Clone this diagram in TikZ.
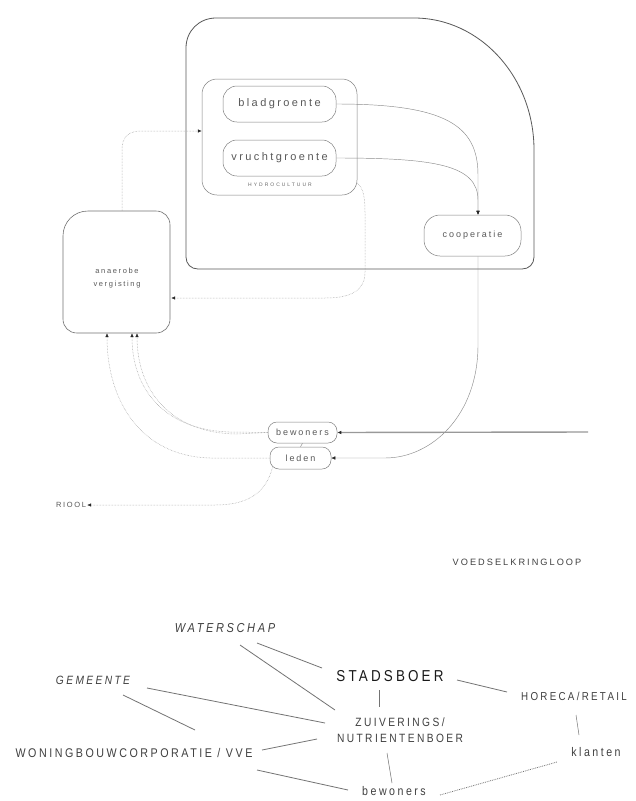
\documentclass[tikz,border=0pt]{standalone}
\usepackage{fontspec}
\setmainfont{Liberation Sans}
\newfontfamily\topf[LetterSpace=22]{Liberation Sans}
\newfontfamily\tinyf[LetterSpace=40]{Liberation Sans}
\newfontfamily\botf[LetterSpace=20,FakeStretch=0.85]{Liberation Sans}
\usetikzlibrary{arrows.meta,calc}
\newcommand\myfs[1]{\fontsize{#1}{#1}\selectfont}
\tikzset{
  pill/.style={draw=black!50, line width=0.5pt, inner sep=0pt, text=black!65},
  boxline/.style={draw=black!55, line width=0.6pt},
  flow/.style={draw=black!40, line width=0.5pt, densely dotted},
  sflow/.style={draw=black!45, line width=0.45pt},
  tip/.style={-{Latex[length=4pt,width=3.5pt,color=black!85]}},
  lab/.style={inner sep=3pt, text=black!75},
  rel/.style={draw=black!55, line width=0.8pt},
}
\begin{document}
\begin{tikzpicture}[x=1pt,y=-1pt]
\fill[white] (0,0) rectangle (636,801);
\useasboundingbox (0,0) rectangle (636,801);

% outer container
\draw[draw=black!65, line width=0.8pt] (216,18) -- (414,18) .. controls (480,18) and (534,77) .. (534,150) -- (534,257) .. controls (534,264) and (529,269) .. (522,269) -- (198,269) .. controls (191,269) and (186,264) .. (186,257) -- (186,48) .. controls (186,31) and (199,18) .. (216,18) -- cycle;

% hydrocultuur
\node[pill, rounded corners=15pt, minimum width=155pt, minimum height=116pt] (hydro) at (279.5,137) {};
\node[pill, rounded corners=14pt, minimum width=113pt, minimum height=36pt, font=\topf\myfs{11}] (blad) at (279.5,104) {bladgroente};
\node[pill, rounded corners=14pt, minimum width=113pt, minimum height=36pt, font=\topf\myfs{11}] (vrucht) at (279.5,158) {vruchtgroente};
\node[inner sep=0pt, text=black!60, font=\tinyf\myfs{5}] (hlab) at (280,184.5) {HYDROCULTUUR};

% cooperatie
\node[pill, rounded corners=16pt, minimum width=97pt, minimum height=41pt, font=\topf\myfs{9}] (coop) at (472.5,235.5) {cooperatie};

% anaerobe vergisting
\node[minimum width=107pt, minimum height=122pt, inner sep=0pt] (ana) at (116.5,272) {};
\draw[boxline] (88,211) -- (156,211) .. controls (164,211) and (170,217) .. (170,225) -- (170,319) .. controls (170,327) and (164,333) .. (156,333) -- (77,333) .. controls (69,333) and (63,327) .. (63,319) -- (63,236) .. controls (63,222) and (74,211) .. (88,211) -- cycle;
\node[align=center, text=black!65, font=\topf\fontsize{7.5}{13}\selectfont] (anatext) at (117,278) {anaerobe\\vergisting};

% bewoners / leden
\node[pill, rounded corners=9pt, minimum width=69pt, minimum height=21pt, font=\topf\myfs{9}] (bew) at (302.5,432.5) {bewoners};
\node[pill, rounded corners=9pt, minimum width=61pt, minimum height=22pt, font=\topf\myfs{9}] (leden) at (300.5,458) {leden};
\node[inner sep=1pt, text=black!65, font=\topf\myfs{7.5}] (riool) at (71,505) {RIOOL};
\coordinate (src) at (588,432);

\node[inner sep=0pt, text=black!75, font=\topf\myfs{9.2}] (voedsel) at (517,562) {VOEDSELKRINGLOOP};

% top connectors
\draw[flow,tip] ($(ana.north)+(5.5,0)$) -- (122,150) .. controls (122,137) and (128,131) .. (142,131) -- ($(hydro.west)+(0,-6)$);
\draw[flow,tip] ($(hydro.east)+(0,46)$) .. controls (363,188) and (365,196) .. (365,212) -- (365,272) .. controls (365,290) and (352,298) .. (325,298) -- ($(ana.east)+(1,26)$);
\draw[sflow,tip] (blad.east) .. controls (445,104) and (478,125) .. (478,175) -- ($(coop.north)+(5.5,0)$);
\draw[sflow,tip] (vrucht.east) .. controls (435,158) and (478,165) .. (478,200) -- ($(coop.north)+(5.5,0)$);
\draw[sflow,tip] ($(coop.south)+(5.5,0)$) -- (478,345) .. controls (478,415) and (432,458) .. (385,458) -- (leden.east);
\draw[draw=black!40, line width=1.4pt, tip] (src) -- (bew.east);
\draw[flow,tip] (bew.west) -- (230,432) .. controls (165,430) and (132,390) .. ($(ana.south)+(15.5,0)$);
\draw[flow,tip] (bew.west) -- (236,434) .. controls (172,433) and (137,392) .. ($(ana.south)+(20.5,0)$);
\draw[flow,tip] (leden.west) -- (210,458) .. controls (140,456) and (107,400) .. ($(ana.south)+(-9.5,0)$);
\draw[flow,tip] ($(leden.south west)+(3,-3)$) .. controls (266,495) and (245,505) .. (215,505) -- (riool.east);
\draw[draw=black!50, line width=0.4pt] (bew.south) -- (leden.north);

% bottom: actors
\node[lab, font=\botf\itshape\myfs{13}] (water) at (225,628) {WATERSCHAP};
\node[lab, font=\botf\itshape\myfs{12}] (gem) at (93,680) {GEMEENTE};
\node[lab, font=\botf\myfs{12.6}] (won) at (134,753) {WONINGBOUWCORPORATIE / VVE};
\node[lab, text=black!90, font=\botf\myfs{15.8}] (stad) at (390,676) {STADSBOER};
\node[lab, align=center, font=\botf\fontsize{12}{16}\selectfont] (zuiv) at (400,730) {ZUIVERINGS/\\NUTRIENTENBOER};
\node[lab, font=\botf\myfs{11.5}] (horeca) at (574,696) {HORECA/RETAIL};
\node[lab, font=\botf\myfs{12.5}] (klanten) at (596,752) {klanten};
\node[lab, font=\botf\myfs{12.5}] (bew2) at (394,791) {bewoners};

\draw[rel] ($(water)+(32,15)$) -- ($(stad)+(-68,-8)$);
\draw[rel] ($(water)+(15,17)$) -- ($(zuiv)+(-65,-20)$);
\draw[rel] ($(gem)+(54,8)$) -- ($(zuiv)+(-75,-7)$);
\draw[rel] ($(gem)+(30,15)$) -- ($(won)+(61,-23)$);
\draw[rel] ($(won)+(128,-3)$) -- ($(zuiv)+(-83,9)$);
\draw[rel] ($(won)+(123,17)$) -- ($(bew2)+(-46,-1)$);
\draw[rel, line width=0.5pt] ($(stad)+(-11,14)$) -- ($(zuiv)+(-21,-23)$);
\draw[rel, line width=0.5pt] ($(zuiv)+(-13,23)$) -- ($(bew2)+(-2,-8)$);
\draw[rel] ($(stad)+(67,4)$) -- ($(horeca)+(-67,-4)$);
\draw[rel, line width=0.5pt] ($(horeca)+(2,19)$) -- ($(klanten)+(-17,-17)$);
\draw[rel, densely dotted] ($(bew2)+(46,4)$) -- ($(klanten)+(-39,10)$);
\end{tikzpicture}
\end{document}
